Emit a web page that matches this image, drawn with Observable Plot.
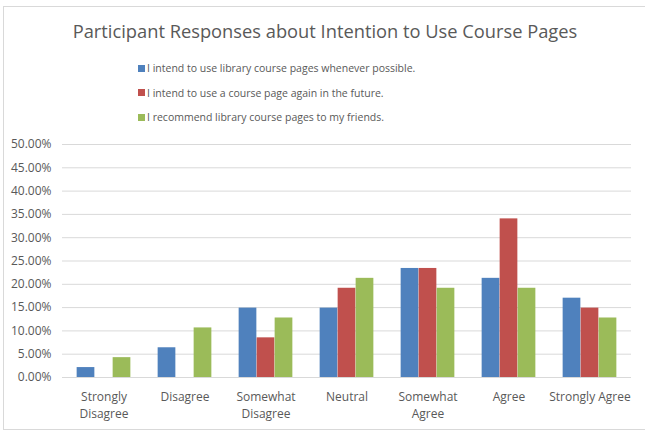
<!DOCTYPE html>
<html><head><meta charset="utf-8">
<script src="https://cdn.jsdelivr.net/npm/d3@7"></script>
<script src="https://cdn.jsdelivr.net/npm/@observablehq/plot@0.6"></script>
<style>
body{margin:0;background:#fff;}
#wrap{position:relative;width:645px;height:435px;overflow:hidden;font-family:"Open Sans",sans-serif;color:#595959;background:#fff;}
#frame{position:absolute;left:3px;top:6px;width:641px;height:422px;border:1px solid #d9d9d9;border-right:none;}
#title{position:absolute;left:0;top:17px;width:650px;text-align:center;font-size:18.3px;line-height:28px;white-space:nowrap;}
#legend{position:absolute;left:138px;top:56px;font-size:10.5px;}
.item{height:24.5px;display:flex;align-items:center;white-space:nowrap;}
.sw{width:7px;height:7px;margin-right:2px;flex:none;}
#chart{position:absolute;left:0;top:135px;}
</style></head>
<body>
<div id="wrap">
  <div id="frame"></div>
  <div id="title">Participant Responses about Intention to Use Course Pages</div>
  <div id="legend"></div>
  <div id="chart"></div>
</div>
<script>
const categories = ["Strongly\nDisagree", "Disagree", "Somewhat\nDisagree", "Neutral", "Somewhat\nAgree", "Agree", "Strongly Agree"];
const seriesNames = [
  "I intend to use library course pages whenever possible.",
  "I intend to use a course page again in the future.",
  "I recommend library course pages to my friends."
];
const seriesColors = ["#4F81BD", "#C0504D", "#9BBB59"];
const whenever = [0.0213, 0.0638, 0.1489, 0.1489, 0.2340, 0.2128, 0.1702];
const again    = [0.0000, 0.0000, 0.0851, 0.1915, 0.2340, 0.3404, 0.1489];
const recommend= [0.0426, 0.1064, 0.1277, 0.2128, 0.1915, 0.1915, 0.1277];
const yTicks = [0, 0.05, 0.10, 0.15, 0.20, 0.25, 0.30, 0.35, 0.40, 0.45, 0.50];

const seriesValues = [whenever, again, recommend];

// legend
const legend = document.getElementById("legend");
seriesNames.forEach((name, i) => {
  const item = document.createElement("div");
  item.className = "item";
  const sw = document.createElement("span");
  sw.className = "sw";
  sw.style.background = seriesColors[i];
  const t = document.createElement("span");
  t.textContent = name;
  item.appendChild(sw); item.appendChild(t);
  legend.appendChild(item);
});

const width = 645, marginLeft = 62, marginRight = 14;
const bandwidth = (width - marginLeft - marginRight) / categories.length;
const barW = 18;
const inset = (bandwidth - barW) / 2;

const marks = [
  Plot.gridY(yTicks, {stroke: "#D9D9D9", strokeOpacity: 1}),
  Plot.axisY(yTicks, {tickFormat: d3.format(".2%"), tickSize: 0, tickPadding: 11, fontSize: 12, fill: "#595959", label: null}),
  Plot.axisX({tickSize: 0, tickPadding: 12, fontSize: 12, fill: "#595959", lineHeight: 1.4, label: null})
];
seriesValues.forEach((vals, i) => {
  const data = categories.map((c, k) => ({category: c, value: vals[k]}));
  marks.push(Plot.barY(data, {
    x: "category", y: "value", fill: seriesColors[i],
    insetLeft: inset, insetRight: inset, dx: (i - 1) * barW
  }));
});
marks.push(Plot.ruleY([0], {stroke: "#D9D9D9"}));

const chart = Plot.plot({
  width, height: 300,
  marginLeft, marginRight, marginTop: 9, marginBottom: 58,
  style: {fontFamily: "'Open Sans', sans-serif", fontSize: "12px", color: "#595959", background: "transparent"},
  x: {domain: categories, padding: 0},
  y: {domain: [0, 0.5]},
  marks
});
document.getElementById("chart").appendChild(chart);
</script>
</body></html>
